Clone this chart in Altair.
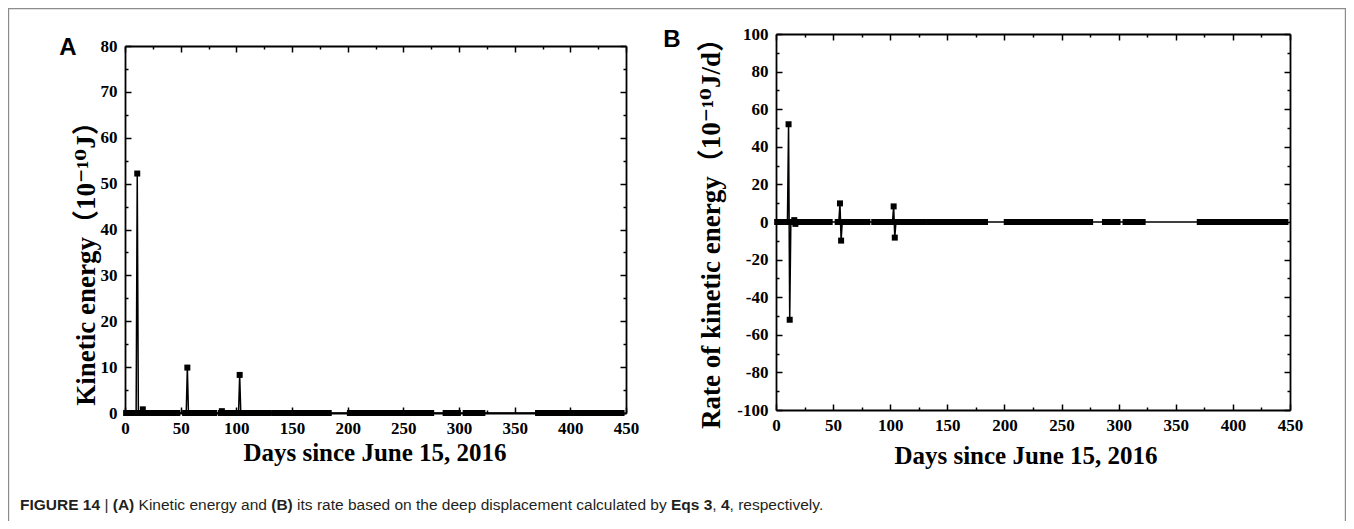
import altair as alt
import pandas as pd

W, H = 1338, 513

# ---------------- data ----------------
# day segments in which (near-zero) values were recorded
seg_start = [1, 54, 86, 134, 202, 288, 306, 371]
seg_end = [47, 80, 129, 183, 275, 299, 321, 446]
# non-zero values of panel A (kinetic energy, 1e-10 J)
a_spike_days = [11, 16, 56, 87, 103]
a_spike_vals = [52.2, 0.8, 9.9, 0.4, 8.3]
# non-zero values of panel B (rate of kinetic energy, 1e-10 J/d)
b_spike_days = [11, 12, 16, 17, 56, 57, 103, 104]
b_spike_vals = [52.0, -52.0, 1.0, -1.0, 9.9, -9.9, 8.3, -8.3]

x_major = [0, 50, 100, 150, 200, 250, 300, 350, 400, 450]
x_minor = [25, 75, 125, 175, 225, 275, 325, 375, 425]
ya_major = [0, 10, 20, 30, 40, 50, 60, 70, 80]
ya_minor = [5, 15, 25, 35, 45, 55, 65, 75]
yb_major = [-100, -80, -60, -40, -20, 0, 20, 40, 60, 80, 100]
yb_minor = [-90, -70, -50, -30, -10, 10, 30, 50, 70, 90]

title_x = "Days since June 15, 2016"
title_ya = "Kinetic energy（10⁻¹⁰J）"
title_yb = "Rate of kinetic energy（10⁻¹⁰J/d）"
NB = "\u00a0"
caption_parts = [
    ("FIGURE 14" + NB, True), ("|" + NB, False), ("(A)" + NB, True),
    ("Kinetic energy and" + NB, False), ("(B)" + NB, True),
    ("its rate based on the deep displacement calculated by" + NB, False),
    ("Eqs 3", True), ("," + NB, False), ("4", True), (", respectively.", False),
]

# ---------------- build tables ----------------
days = set()
for s, e in zip(seg_start, seg_end):
    days.update(range(s, e + 1))
days.update(a_spike_days)
days.update(b_spike_days)
days = sorted(days)
a_map = dict(zip(a_spike_days, a_spike_vals))
b_map = dict(zip(b_spike_days, b_spike_vals))
dfA = pd.DataFrame({"day": days, "v": [a_map.get(d, 0.0) for d in days]})
dfB = pd.DataFrame({"day": days, "v": [b_map.get(d, 0.0) for d in days]})

SERIF = "Times New Roman, Liberation Serif, DejaVu Serif, Noto Sans CJK SC"
SANS = "Arial, Liberation Sans, Helvetica"
LABEL_SIZE = 17
XTITLE_SIZE = 25
YTITLE_SIZE = 27


def panel(df, xr, yr, ydom, ymaj, ymin, ymod):
    xs = alt.Scale(domain=[0, 450], range=xr, nice=False, zero=False)
    ys = alt.Scale(domain=ydom, range=yr, nice=False, zero=False)
    xall = sorted(x_major + x_minor)
    yall = sorted(ymaj + ymin)
    tsx = {"condition": {"test": "datum.value % 50 === 0", "value": 6}, "value": 3}
    tsy = {"condition": {"test": f"datum.value % {ymod} === 0", "value": 6}, "value": 3}
    common = dict(title=None, grid=False)
    lab_x = alt.Axis(orient="bottom", offset=yr[0] - H, values=x_major, ticks=False, tickSize=0,
                     domain=True, domainColor="black", domainWidth=1.8, labelFont=SERIF,
                     labelFontSize=LABEL_SIZE, labelFontWeight="bold", labelColor="black",
                     labelPadding=7, labelFlush=False, labelOverlap=False, **common)
    lab_y = alt.Axis(orient="left", offset=-xr[0], values=ymaj, ticks=False, tickSize=0,
                     domain=True, domainColor="black", domainWidth=1.8, labelFont=SERIF,
                     labelFontSize=LABEL_SIZE, labelFontWeight="bold", labelColor="black",
                     labelPadding=8, labelFlush=False, labelOverlap=False,
                     labelExpr="datum.value + ''", **common)
    tick_kw = dict(labels=False, ticks=True, tickWidth=1.5, tickColor="black", **common)
    bx = alt.Axis(orient="top", offset=-yr[0], values=xall, domain=False, tickSize=tsx, **tick_kw)
    by = alt.Axis(orient="right", offset=xr[0] - W, values=yall, domain=False, tickSize=tsy, **tick_kw)
    tx = alt.Axis(orient="bottom", offset=yr[1] - H, values=xall, domain=True, domainColor="black",
                  domainWidth=1.8, tickSize=tsx, **tick_kw)
    ty = alt.Axis(orient="left", offset=-xr[1], values=yall, domain=True, domainColor="black",
                  domainWidth=1.8, tickSize=tsy, **tick_kw)

    base = alt.Chart(df)
    enc = dict(x=alt.X("day:Q", scale=xs, axis=lab_x), y=alt.Y("v:Q", scale=ys, axis=lab_y))
    line = base.mark_line(color="black", strokeWidth=1.5).encode(**enc)
    pts = base.mark_point(shape="square", filled=True, size=36, color="black", opacity=1).encode(**enc)
    main = alt.layer(line, pts)
    l2 = base.mark_point(opacity=0).encode(x=alt.X("day:Q", scale=xs, axis=bx),
                                            y=alt.Y("v:Q", scale=ys, axis=by))
    l3 = base.mark_point(opacity=0).encode(x=alt.X("day:Q", scale=xs, axis=tx),
                                            y=alt.Y("v:Q", scale=ys, axis=ty))
    return [main, l2, l3]


def text(t, x, y, size, font=SERIF, weight="bold", angle=0, align="center", color="black"):
    return alt.Chart(pd.DataFrame({"t": [t]})).mark_text(
        font=font, fontSize=size, fontWeight=weight, angle=angle, align=align,
        baseline="middle", color=color
    ).encode(x=alt.value(x), y=alt.value(y), text="t:N")


A_X, A_Y = [117, 618], [405, 38]
B_X, B_Y = [768, 1282], [402, 26]

layers = []
layers += panel(dfA, A_X, A_Y, [0, 80], ya_major, ya_minor, 10)
layers += panel(dfB, B_X, B_Y, [-100, 100], yb_major, yb_minor, 20)

# frame around the figure
frame = alt.Chart(pd.DataFrame({"k": [0]})).mark_rect(
    fill=None, stroke="#8c8c8c", strokeWidth=1.2
).encode(x=alt.value(0.6), x2=alt.value(W - 0.6), y=alt.value(0.6), y2=alt.value(H + 30))
layers.append(frame)

layers.append(text("A", 60, 40, 24, font=SANS))
layers.append(text("B", 664, 32, 24, font=SANS))
layers.append(text(title_x, 367, 445, XTITLE_SIZE))
layers.append(text(title_x, 1018, 448, XTITLE_SIZE))
layers.append(text(title_ya, 79, 249, YTITLE_SIZE, angle=270))
layers.append(text(title_yb, 704, 219, YTITLE_SIZE, angle=270))

# caption with bold segments (spaces kept at segment ends)
AR = {" ": 278, NB: 278, "(": 333, ")": 333, ",": 278, ".": 278, "|": 260, "A": 667, "B": 667,
      "E": 667, "F": 611, "G": 778, "I": 278, "R": 722, "U": 722, "K": 667,
      "a": 556, "b": 556, "c": 500, "d": 556, "e": 556, "f": 278, "g": 556, "h": 556, "i": 222,
      "j": 222, "k": 500, "l": 222, "m": 833, "n": 556, "o": 556, "p": 556, "q": 556, "r": 333,
      "s": 500, "t": 278, "u": 556, "v": 500, "w": 722, "x": 500, "y": 500, "z": 500}
ARB = dict(AR)
ARB.update({"A": 722, "B": 722, "R": 722, "U": 722, "q": 611, "s": 556, "|": 280})
cap_size = 15.5
cx = 12.0
for seg, bold in caption_parts:
    layers.append(text(seg, cx, 497, cap_size, font=SANS, weight="bold" if bold else "normal",
                       align="left", color="#231f20"))
    table = ARB if bold else AR
    cx += sum(table.get(ch, 556) for ch in seg) / 1000.0 * cap_size

chart = alt.layer(*layers).resolve_scale(x="independent", y="independent").properties(
    width=W, height=H, padding=0, autosize=alt.AutoSizeParams(type="none")
).configure_view(stroke=None).configure(background="white")

chart.save("out.html", embed_options={"renderer": "svg", "actions": False})
